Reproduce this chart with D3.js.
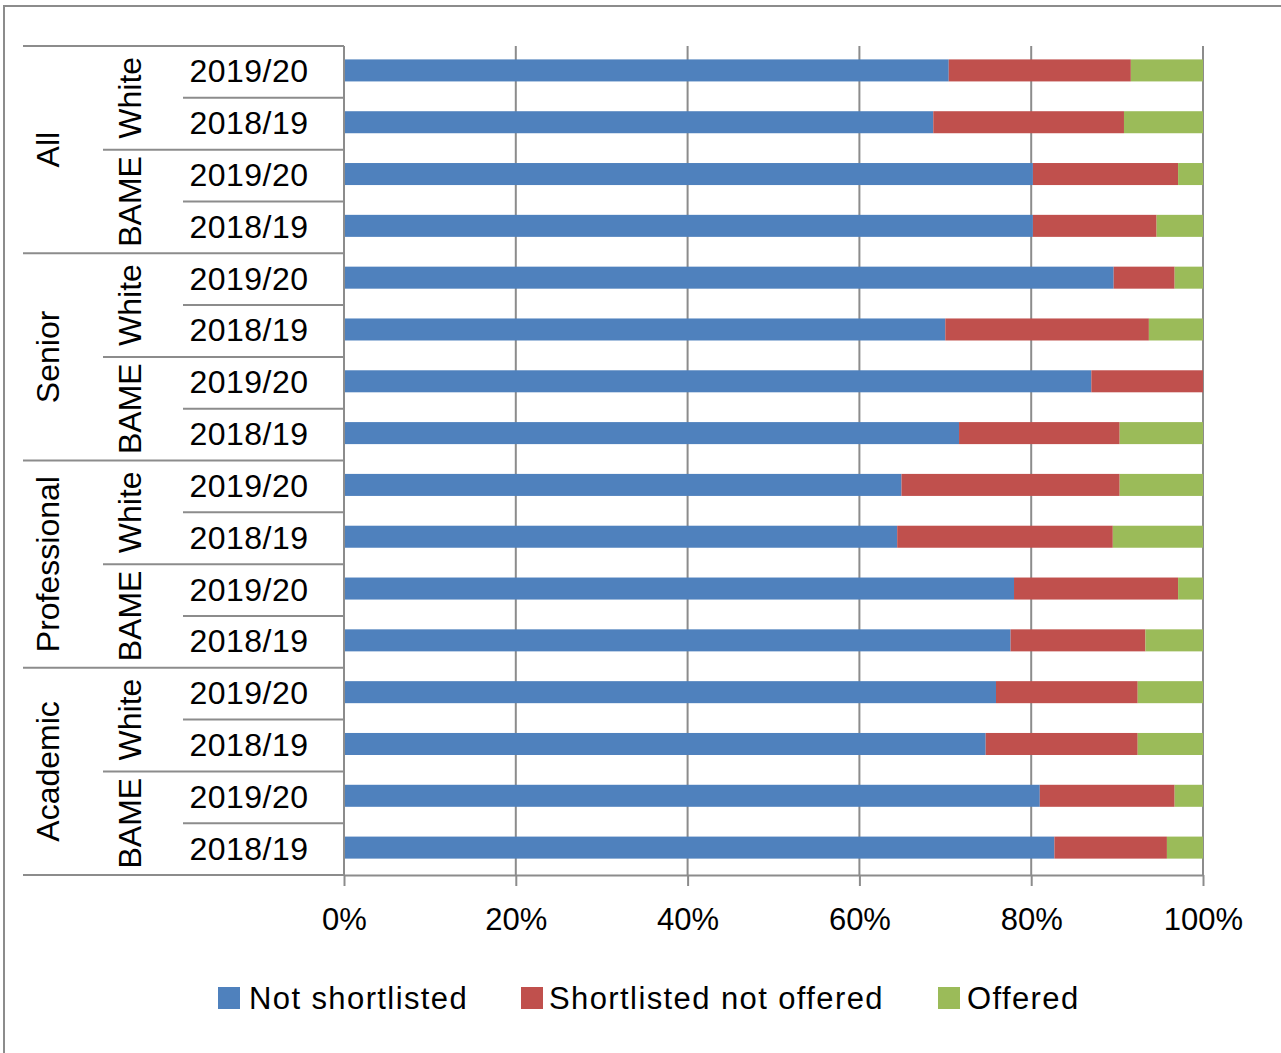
<!DOCTYPE html>
<html>
<head>
<meta charset="utf-8">
<script src="https://cdn.jsdelivr.net/npm/d3@7"></script>
<style>
  html, body { margin: 0; padding: 0; background: #fff; }
  svg { display: block; font-family: "Liberation Sans", Arial, sans-serif; }
</style>
</head>
<body>
<svg id="chart" width="1281" height="1053"></svg>
<script>
// Staff groups, ethnicity and year make up a three-level category axis
const staffGroups = ["All", "Senior", "Professional", "Academic"];
const ethnicities = ["White", "BAME"];
const years = ["2019/20", "2018/19"];

// Shares (%) per row, in row order top to bottom
const notShortlisted = [70.4, 68.6, 80.2, 80.2, 89.6, 70.0, 87.0, 71.6,
                        64.9, 64.4, 78.0, 77.6, 75.9, 74.7, 81.0, 82.7];
const shortlistedNotOffered = [21.2, 22.2, 16.9, 14.4, 7.1, 23.7, 13.0, 18.7,
                               25.4, 25.1, 19.1, 15.7, 16.5, 17.7, 15.7, 13.1];
const offered = [8.4, 9.2, 2.9, 5.4, 3.3, 6.3, 0.0, 9.7,
                 9.7, 10.5, 2.9, 6.7, 7.6, 7.6, 3.3, 4.2];

const seriesNames = ["Not shortlisted", "Shortlisted not offered", "Offered"];
const seriesColors = ["#4f81bd", "#c0504d", "#9bbb59"];
const tickValues = [0, 20, 40, 60, 80, 100];

// Build row table
const rows = [];
staffGroups.forEach(g => ethnicities.forEach(e => years.forEach(yr => {
  const i = rows.length;
  rows.push({ id: i, group: g, eth: e, year: yr,
    "Not shortlisted": notShortlisted[i],
    "Shortlisted not offered": shortlistedNotOffered[i],
    "Offered": offered[i] });
})));

const svg = d3.select("#chart");
const gridColor = "#8c8c8c";

// Outer chart frame
svg.append("rect").attr("x", 4).attr("y", 6).attr("width", 1400).attr("height", 1200)
  .attr("fill", "none").attr("stroke", gridColor).attr("stroke-width", 2);

const plotLeft = 344, plotRight = 1203, plotTop = 46, plotBottom = 875;
const x = d3.scaleLinear().domain([0, 100]).range([plotLeft, plotRight]);
const y = d3.scaleBand().domain(rows.map(r => r.id)).range([plotTop, plotBottom])
  .paddingInner(0.575).paddingOuter(0.2875).align(0.45);
const step = y.step();

// Vertical gridlines
svg.append("g").selectAll("line").data(tickValues).join("line")
  .attr("x1", d => x(d)).attr("x2", d => x(d))
  .attr("y1", plotTop).attr("y2", plotBottom)
  .attr("stroke", gridColor).attr("stroke-width", 2);

// Stacked bars
const stack = d3.stack().keys(seriesNames);
const layers = stack(rows);
svg.append("g").selectAll("g").data(layers).join("g")
  .attr("fill", (d, i) => seriesColors[i])
  .selectAll("rect").data(d => d).join("rect")
  .attr("x", d => x(d[0]))
  .attr("width", d => Math.max(0, x(d[1]) - x(d[0])))
  .attr("y", d => y(d.data.id))
  .attr("height", y.bandwidth());

// Category axis line
svg.append("line").attr("x1", plotLeft).attr("x2", plotLeft)
  .attr("y1", plotTop).attr("y2", plotBottom)
  .attr("stroke", gridColor).attr("stroke-width", 2);

// Value axis with ticks below the plot
const xAxis = d3.axisBottom(x).tickValues(tickValues).tickFormat(d => d + "%")
  .tickSize(11).tickPadding(22).tickSizeOuter(0);
const gx = svg.append("g").attr("transform", `translate(0,${plotBottom})`).call(xAxis);
gx.select(".domain").attr("stroke", gridColor).attr("stroke-width", 2);
gx.selectAll(".tick line").attr("stroke", gridColor).attr("stroke-width", 2);
gx.selectAll(".tick text").attr("fill", "#000").attr("font-size", 31)
  .attr("font-family", "Liberation Sans, Arial, sans-serif");
// extend axis baseline under the label columns
svg.append("line").attr("x1", 23).attr("x2", plotLeft).attr("y1", plotBottom).attr("y2", plotBottom)
  .attr("stroke", gridColor).attr("stroke-width", 2);

// Multi-level category labels and separators
const labelG = svg.append("g");
const colYear = 183, colEth = 103, colGroup = 23;

// Year separators and labels
rows.forEach(r => {
  const y0 = plotTop + r.id * step;
  let xStart = colYear;
  if (r.id % 4 === 0) xStart = colGroup;
  else if (r.id % 2 === 0) xStart = colEth;
  labelG.append("line").attr("x1", xStart).attr("x2", plotLeft).attr("y1", y0).attr("y2", y0)
    .attr("stroke", gridColor).attr("stroke-width", 2);
  labelG.append("text").attr("x", 249).attr("y", y0 + step / 2 - 0.5)
    .attr("text-anchor", "middle").attr("dominant-baseline", "central")
    .attr("font-size", 32).attr("letter-spacing", 0.5).attr("fill", "#000").text(r.year);
});

// Ethnicity labels (rotated)
staffGroups.forEach((g, gi) => ethnicities.forEach((e, ei) => {
  const yc = plotTop + (gi * 4 + ei * 2 + 1) * step;
  labelG.append("text")
    .attr("transform", `translate(130,${yc}) rotate(-90)`)
    .attr("text-anchor", "middle").attr("dominant-baseline", "central")
    .attr("font-size", 32).attr("fill", "#000").text(e);
}));

// Staff group labels (rotated)
staffGroups.forEach((g, gi) => {
  const yc = plotTop + (gi * 4 + 2) * step;
  labelG.append("text")
    .attr("transform", `translate(48,${yc}) rotate(-90)`)
    .attr("text-anchor", "middle").attr("dominant-baseline", "central")
    .attr("font-size", 32).attr("fill", "#000").text(g);
});

// Legend
const legendItems = [
  { name: seriesNames[0], color: seriesColors[0], x: 218, gap: 31 },
  { name: seriesNames[1], color: seriesColors[1], x: 521, gap: 28 },
  { name: seriesNames[2], color: seriesColors[2], x: 938, gap: 29 }
];
const lg = svg.append("g");
legendItems.forEach(it => {
  lg.append("rect").attr("x", it.x).attr("y", 987).attr("width", 22).attr("height", 22)
    .attr("fill", it.color);
  lg.append("text").attr("x", it.x + it.gap).attr("y", 998)
    .attr("dominant-baseline", "central").attr("font-size", 31)
    .attr("letter-spacing", 1.4).attr("fill", "#000").text(it.name);
});
</script>
</body>
</html>
